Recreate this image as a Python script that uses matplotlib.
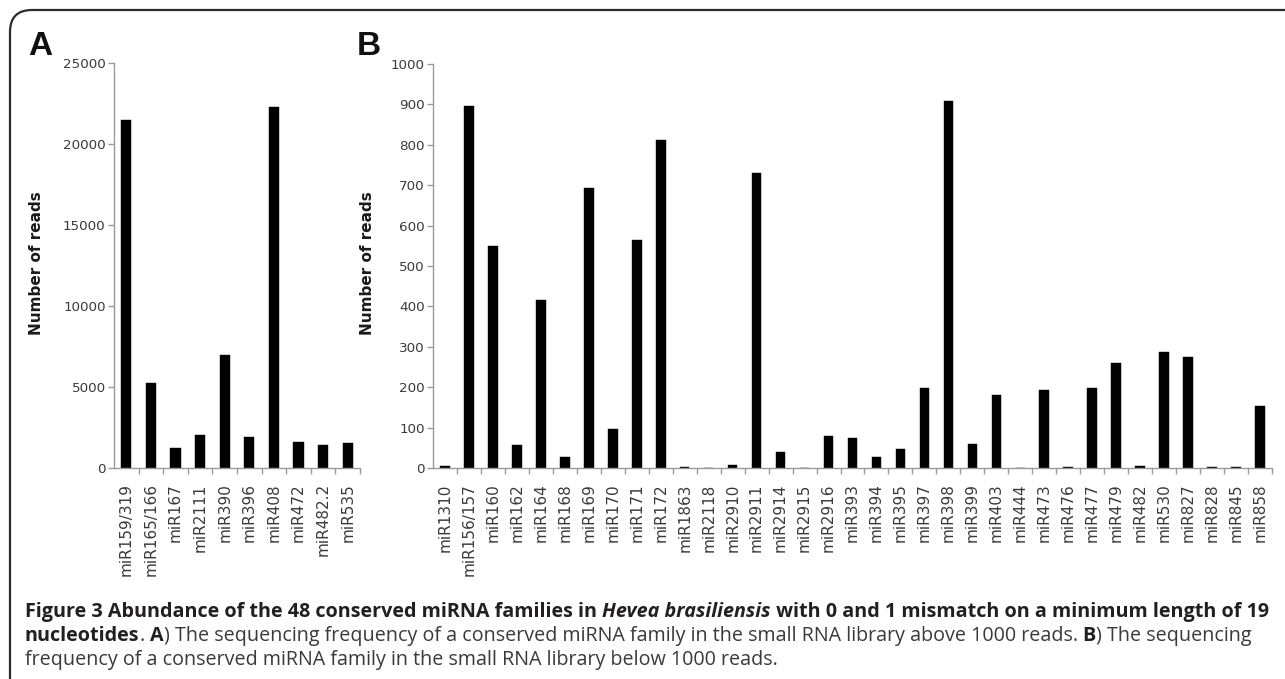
import matplotlib
matplotlib.use("Agg")
import matplotlib.pyplot as plt
from matplotlib.patches import FancyBboxPatch

# ---------------- data ----------------
cats_a = ["miR159/319", "miR165/166", "miR167", "miR2111", "miR390",
          "miR396", "miR408", "miR472", "miR482.2", "miR535"]
vals_a = [21500, 5230, 1230, 2050, 6960, 1910, 22300, 1600, 1420, 1540]

cats_b = ["miR1310", "miR156/157", "miR160", "miR162", "miR164", "miR168",
          "miR169", "miR170", "miR171", "miR172", "miR1863", "miR2118",
          "miR2910", "miR2911", "miR2914", "miR2915", "miR2916", "miR393",
          "miR394", "miR395", "miR397", "miR398", "miR399", "miR403",
          "miR444", "miR473", "miR476", "miR477", "miR479", "miR482",
          "miR530", "miR827", "miR828", "miR845", "miR858"]
vals_b = [6, 896, 549, 58, 415, 28, 693, 97, 565, 813, 2, 0,
          7, 729, 40, 0, 78, 74, 27, 46, 198, 909, 59, 181,
          0, 194, 2, 198, 260, 5, 288, 274, 1.5, 1.5, 153]

yticks_a = [0, 5000, 10000, 15000, 20000, 25000]
yticks_b = [0, 100, 200, 300, 400, 500, 600, 700, 800, 900, 1000]

W, H = 1285, 679
fig = plt.figure(figsize=(W / 100, H / 100), dpi=100)
fig.patch.set_facecolor("white")

SPINE = "#9a9a9a"
TICKTXT = "#3a3a3a"


def px_ax(left, right, top, bottom):
    return [left / W, 1 - bottom / H, (right - left) / W, (bottom - top) / H]


def style_axis(ax, cats, vals, width, ymax, yticks):
    x = list(range(len(cats)))
    ax.bar(x, vals, width=width, color="black", edgecolor="black", linewidth=0.3)
    ax.set_xlim(-0.5, len(cats) - 0.5)
    ax.set_ylim(0, ymax)
    for s in ["top", "right"]:
        ax.spines[s].set_visible(False)
    for s in ["left", "bottom"]:
        ax.spines[s].set_color(SPINE)
        ax.spines[s].set_linewidth(1.0)
    ax.set_xticks(x)
    ax.set_xticklabels(cats, rotation=90, fontsize=11, color=TICKTXT,
                       family="DejaVu Sans")
    ax.set_xticks([i + 0.5 for i in range(len(cats))], minor=True)
    ax.tick_params(axis="x", which="major", length=0, pad=11)
    ax.tick_params(axis="x", which="minor", length=4, color=SPINE, width=1.0,
                   direction="out")
    ax.set_yticks(yticks)
    ax.set_yticklabels([str(v) for v in yticks], fontsize=9.7, color=TICKTXT,
                       family="DejaVu Sans")
    ax.tick_params(axis="y", length=4, color=SPINE, width=1.0, pad=2,
                   direction="out")
    ax.set_facecolor("none")


ax_a = fig.add_axes(px_ax(114, 360, 63, 468))
style_axis(ax_a, cats_a, vals_a, 0.42, 25000, yticks_a)

ax_b = fig.add_axes(px_ax(433, 1272, 64, 468))
style_axis(ax_b, cats_b, vals_b, 0.40, 1000, yticks_b)

# y labels
for cx in (37, 367):
    fig.text(cx / W, 1 - 263 / H, "Number of reads", rotation=90,
             ha="center", va="center", fontsize=11, fontweight="bold",
             family="DejaVu Sans", color="#1a1a1a")

# panel letters
fig.text(28 / W, 1 - 55 / H, "A", fontsize=24, fontweight="bold",
         family="Liberation Sans", va="baseline", ha="left", color="#111111")
fig.text(357 / W, 1 - 55 / H, "B", fontsize=24, fontweight="bold",
         family="Liberation Sans", va="baseline", ha="left", color="#111111")

# border (top and left, rounded corner)
border = FancyBboxPatch((0.1, -0.5), 14.0, 6.69 + 0.5,
                        boxstyle="round,pad=0,rounding_size=0.22",
                        transform=fig.dpi_scale_trans, facecolor="none",
                        edgecolor="#2b2b2b", linewidth=1.6, clip_on=False)
fig.add_artist(border)

# caption
renderer = fig.canvas.get_renderer()
BOLD_C = "#231f20"
REG_C = "#3a3a3a"

line1 = [("Figure 3 Abundance of the 48 conserved miRNA families in ", "bold", "normal"),
         ("Hevea brasiliensis", "bold", "italic"),
         (" with 0 and 1 mismatch on a minimum length of 19", "bold", "normal")]
line2 = [("nucleotides", "bold", "normal"),
         (". ", "normal", "normal"),
         ("A", "bold", "normal"),
         (") The sequencing frequency of a conserved miRNA family in the small RNA library above 1000 reads. ", "normal", "normal"),
         ("B", "bold", "normal"),
         (") The sequencing", "normal", "normal")]
line3 = [("frequency of a conserved miRNA family in the small RNA library below 1000 reads.", "normal", "normal")]


def piece_width(text, size, weight, style):
    t1 = fig.text(0, 0, "|" + text + "|", fontsize=size, fontweight=weight,
                  fontstyle=style, family="Open Sans")
    t2 = fig.text(0, 0, "||", fontsize=size, fontweight=weight,
                  fontstyle=style, family="Open Sans")
    w = t1.get_window_extent(renderer).width - t2.get_window_extent(renderer).width
    t1.remove()
    t2.remove()
    return w


def line_width(pieces, size):
    return sum(piece_width(t, size, w, s) for t, w, s in pieces)


trial = 13.5
w1 = line_width(line1, trial)
size = trial * (1250.0 / w1)


def draw_line(pieces, x0, ybase, size):
    x = x0
    for text, weight, style in pieces:
        col = BOLD_C if weight == "bold" else REG_C
        fig.text(x / W, 1 - ybase / H, text, fontsize=size, fontweight=weight,
                 fontstyle=style, family="Open Sans", va="baseline",
                 ha="left", color=col)
        x += piece_width(text, size, weight, style)


draw_line(line1, 25, 617, size)
draw_line(line2, 25, 641, size)
draw_line(line3, 25, 665, size)

fig.savefig("out.png", dpi=100, facecolor="white")
